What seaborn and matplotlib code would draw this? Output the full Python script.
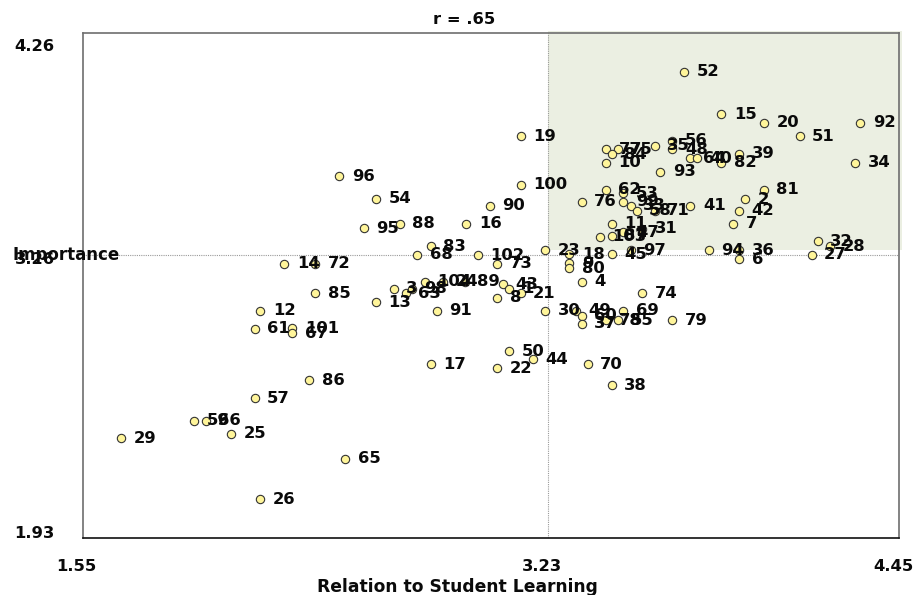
import numpy as np
import pandas as pd
import matplotlib
matplotlib.use("Agg")
import matplotlib.pyplot as plt
import seaborn as sns
from matplotlib.patches import Rectangle
from matplotlib.transforms import ScaledTranslation

# item numbers and their two ratings
ids = [52, 15, 20, 92, 51, 19, 56, 48, 77, 75, 84, 35, 10, 64, 40, 82, 39, 34, 93,
       100, 90, 62, 53, 76, 99, 33, 58, 71, 41, 7, 42, 2, 81, 11, 103, 87, 47, 31,
       94, 36, 6, 27, 32, 28, 97, 45, 23, 18, 9, 80, 4, 74, 30, 49, 60, 69, 37, 78,
       55, 79, 50, 44, 22, 70, 38, 73, 8, 43, 1, 21, 102, 68, 83, 16, 88, 95, 54,
       96, 14, 72, 85, 12, 61, 101, 67, 86, 57, 59, 66, 29, 25, 65, 26, 13, 3, 63,
       98, 104, 24, 89, 91, 17]
relation = [3.687, 3.819, 3.970, 4.313, 4.097, 3.107, 3.645, 3.645, 3.409, 3.451,
            3.430, 3.582, 3.409, 3.709, 3.733, 3.819, 3.882, 4.294, 3.602,
            3.107, 2.997, 3.409, 3.471, 3.323, 3.471, 3.497, 3.518, 3.582, 3.709,
            3.861, 3.882, 3.903, 3.970, 3.430, 3.388, 3.430, 3.471, 3.538,
            3.775, 3.882, 3.882, 4.140, 4.161, 4.205, 3.497, 3.429, 3.192, 3.279,
            3.279, 3.279, 3.323, 3.538, 3.192, 3.302, 3.323, 3.471, 3.323, 3.409,
            3.451, 3.645, 3.066, 3.149, 3.023, 3.344, 3.429, 3.023, 3.023, 3.044,
            3.066, 3.106, 2.955, 2.739, 2.786, 2.913, 2.677, 2.549, 2.592,
            2.461, 2.266, 2.376, 2.376, 2.181, 2.161, 2.295, 2.295, 2.355, 2.161,
            1.945, 1.987, 1.687, 2.077, 2.482, 2.181, 2.592, 2.655, 2.698,
            2.719, 2.766, 2.830, 2.908, 2.809, 2.786]
importance = [4.083, 3.886, 3.846, 3.846, 3.785, 3.785, 3.763, 3.724, 3.724, 3.724,
              3.701, 3.741, 3.663, 3.683, 3.683, 3.663, 3.703, 3.663, 3.621,
              3.560, 3.464, 3.537, 3.521, 3.483, 3.483, 3.463, 3.441, 3.441, 3.463,
              3.381, 3.441, 3.495, 3.537, 3.381, 3.320, 3.326, 3.341, 3.357,
              3.258, 3.258, 3.217, 3.237, 3.300, 3.278, 3.258, 3.240, 3.258, 3.240,
              3.198, 3.175, 3.113, 3.060, 2.978, 2.978, 2.955, 2.978, 2.918, 2.936,
              2.936, 2.936, 2.793, 2.755, 2.713, 2.732, 2.636, 3.196, 3.039, 3.101,
              3.080, 3.060, 3.235, 3.237, 3.278, 3.381, 3.380, 3.360, 3.496,
              3.601, 3.196, 3.196, 3.060, 2.978, 2.895, 2.898, 2.875, 2.658, 2.575,
              2.472, 2.472, 2.390, 2.412, 2.295, 2.110, 3.018, 3.080, 3.060,
              3.080, 3.113, 3.113, 3.113, 2.978, 2.732]

x_range = [1.55, 4.45]
y_range = [1.93, 4.26]
x_mean, y_mean = 3.204, 3.235
x_ticklabels = ["1.55", "3.23", "4.45"]
y_ticklabels = ["1.93", "3.26", "4.26"]

df = pd.DataFrame({"id": ids, "relation": relation, "importance": importance})

sns.set_style("white")
plt.rcParams["font.family"] = ["DejaVu Sans"]
plt.rcParams["font.weight"] = "bold"

fig = plt.figure(figsize=(9.14, 5.95), dpi=100)
ax = fig.add_axes([82.7 / 914, 57 / 595, 816.3 / 914, 504.7 / 595])

# shaded "high / high" quadrant
ax.add_patch(Rectangle((x_mean, 3.26), 4.461 - x_mean, 4.271 - 3.26,
                       facecolor="#ebefe2", edgecolor="none", zorder=0, clip_on=False))
ax.axvline(x_mean, color="#9a9a9a", lw=0.8, ls=(0, (1, 1)), zorder=1)
ax.axhline(y_mean, color="#9a9a9a", lw=0.8, ls=(0, (1, 1)), zorder=1)

sns.scatterplot(data=df, x="relation", y="importance", ax=ax, s=36,
                color="#fff59a", edgecolor="#333333", linewidth=0.8, zorder=3, legend=False)

for i, xv, yv in zip(df["id"], df["relation"], df["importance"]):
    ax.annotate(str(int(i)), (xv, yv), xytext=(9, 0),
                textcoords="offset points", va="center", ha="left",
                fontsize=11.8, fontweight="bold", color="#0a0a0a", zorder=4)

ax.set_xlim(x_range)
ax.set_ylim(y_range)
ax.set_xticks([x_range[0], x_mean, x_range[1]])
ax.set_xticklabels(x_ticklabels, fontsize=11.8, fontweight="bold")
ax.set_yticks([y_range[0], y_mean, y_range[1]])
ax.set_yticklabels(y_ticklabels, fontsize=11.8, fontweight="bold")
ax.tick_params(axis="x", length=0, pad=15, colors="#0a0a0a")
ax.tick_params(axis="y", length=0, pad=20, colors="#0a0a0a")
for lab in ax.get_xticklabels():
    lab.set_transform(lab.get_transform() + ScaledTranslation(-0.06, 0, fig.dpi_scale_trans))
for lab, dy in zip(ax.get_yticklabels(), [0.06, -0.03, -0.12]):
    lab.set_transform(lab.get_transform() + ScaledTranslation(0, dy, fig.dpi_scale_trans))
ax.set_xlabel("")
ax.set_ylabel("")

for side in ["left", "top", "right"]:
    ax.spines[side].set_color("#6e6e6e")
    ax.spines[side].set_linewidth(1.2)
ax.spines["bottom"].set_color("#111111")
ax.spines["bottom"].set_linewidth(1.2)

fig.text(464 / 914, 1 - 19 / 595, "r = .65", ha="center", va="center",
         fontsize=11.8, fontweight="bold", color="#0a0a0a")
fig.text(457 / 914, 1 - 587 / 595, "Relation to Student Learning", ha="center",
         va="center", fontsize=12.3, fontweight="bold", color="#0a0a0a")
fig.text(12 / 914, 1 - 255 / 595, "Importance", ha="left", va="center",
         fontsize=12, fontweight="bold", color="#0a0a0a")

fig.savefig("out.png", dpi=100)
